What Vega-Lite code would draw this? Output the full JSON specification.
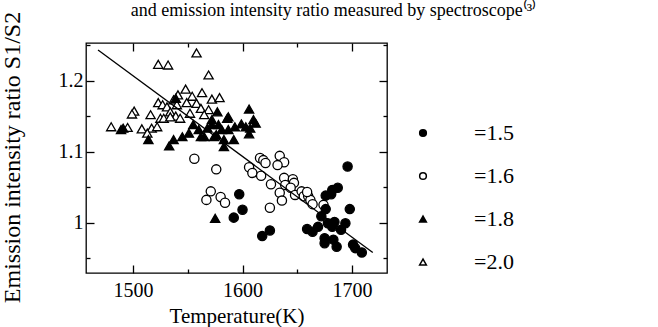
{
  "$schema": "https://vega.github.io/schema/vega-lite/v6.json",
  "width": 301,
  "height": 230,
  "autosize": {"type": "none"},
  "padding": {"left": 86, "top": 43, "right": 271, "bottom": 54},
  "background": "white",
  "title": {"text": "and emission intensity ratio measured by spectroscope⁽³⁾", "font": "Liberation Serif", "fontSize": 18, "fontWeight": "normal", "color": "black", "anchor": "middle", "frame": "group", "dx": 97, "baseline": "alphabetic", "offset": -23},
  "datasets": {
    "pts": [
      {"T":1480,"ratio":1.135,"phi":"2.0"},{"T":1523,"ratio":1.223,"phi":"2.0"},{"T":1532,"ratio":1.222,"phi":"2.0"},{"T":1558,"ratio":1.239,"phi":"2.0"},{"T":1569,"ratio":1.208,"phi":"2.0"},{"T":1548,"ratio":1.188,"phi":"2.0"},{"T":1563,"ratio":1.183,"phi":"2.0"},{"T":1572,"ratio":1.174,"phi":"2.0"},{"T":1579,"ratio":1.176,"phi":"2.0"},{"T":1554,"ratio":1.178,"phi":"2.0"},{"T":1501,"ratio":1.157,"phi":"2.0"},{"T":1499,"ratio":1.153,"phi":"2.0"},{"T":1495,"ratio":1.134,"phi":"2.0"},{"T":1508,"ratio":1.132,"phi":"2.0"},{"T":1517,"ratio":1.133,"phi":"2.0"},{"T":1522,"ratio":1.135,"phi":"2.0"},{"T":1513,"ratio":1.126,"phi":"2.0"},{"T":1525,"ratio":1.147,"phi":"2.0"},{"T":1523,"ratio":1.169,"phi":"2.0"},{"T":1527,"ratio":1.166,"phi":"2.0"},{"T":1531,"ratio":1.163,"phi":"2.0"},{"T":1537,"ratio":1.173,"phi":"2.0"},{"T":1540,"ratio":1.166,"phi":"2.0"},{"T":1534,"ratio":1.156,"phi":"2.0"},{"T":1539,"ratio":1.150,"phi":"2.0"},{"T":1543,"ratio":1.147,"phi":"2.0"},{"T":1552,"ratio":1.154,"phi":"2.0"},{"T":1558,"ratio":1.168,"phi":"2.0"},{"T":1562,"ratio":1.161,"phi":"2.0"},{"T":1569,"ratio":1.159,"phi":"2.0"},{"T":1565,"ratio":1.152,"phi":"2.0"},{"T":1516,"ratio":1.152,"phi":"2.0"},{"T":1549,"ratio":1.169,"phi":"2.0"},{"T":1541,"ratio":1.180,"phi":"2.0"},{"T":1528,"ratio":1.147,"phi":"2.0"},{"T":1534,"ratio":1.149,"phi":"2.0"},
      {"T":1489,"ratio":1.131,"phi":"1.8"},{"T":1491,"ratio":1.133,"phi":"1.8"},{"T":1514,"ratio":1.117,"phi":"1.8"},{"T":1533,"ratio":1.108,"phi":"1.8"},{"T":1537,"ratio":1.117,"phi":"1.8"},{"T":1545,"ratio":1.121,"phi":"1.8"},{"T":1551,"ratio":1.126,"phi":"1.8"},{"T":1562,"ratio":1.121,"phi":"1.8"},{"T":1568,"ratio":1.133,"phi":"1.8"},{"T":1577,"ratio":1.156,"phi":"1.8"},{"T":1572,"ratio":1.145,"phi":"1.8"},{"T":1583,"ratio":1.117,"phi":"1.8"},{"T":1586,"ratio":1.147,"phi":"1.8"},{"T":1539,"ratio":1.175,"phi":"1.8"},{"T":1606,"ratio":1.160,"phi":"1.8"},{"T":1610,"ratio":1.145,"phi":"1.8"},{"T":1599,"ratio":1.139,"phi":"1.8"},{"T":1607,"ratio":1.133,"phi":"1.8"},{"T":1606,"ratio":1.125,"phi":"1.8"},{"T":1587,"ratio":1.149,"phi":"1.8"},{"T":1587,"ratio":1.131,"phi":"1.8"},{"T":1592,"ratio":1.117,"phi":"1.8"},{"T":1583,"ratio":1.107,"phi":"1.8"},{"T":1581,"ratio":1.131,"phi":"1.8"},{"T":1572,"ratio":1.138,"phi":"1.8"},{"T":1565,"ratio":1.121,"phi":"1.8"},{"T":1574,"ratio":1.121,"phi":"1.8"},{"T":1575,"ratio":1.006,"phi":"1.8"},{"T":1555,"ratio":1.138,"phi":"1.8"},{"T":1560,"ratio":1.131,"phi":"1.8"},{"T":1578,"ratio":1.138,"phi":"1.8"},{"T":1593,"ratio":1.135,"phi":"1.8"},{"T":1603,"ratio":1.135,"phi":"1.8"},{"T":1612,"ratio":1.140,"phi":"1.8"},{"T":1576,"ratio":1.124,"phi":"1.8"},
      {"T":1556,"ratio":1.090,"phi":"1.6"},{"T":1576,"ratio":1.075,"phi":"1.6"},{"T":1571,"ratio":1.044,"phi":"1.6"},{"T":1567,"ratio":1.032,"phi":"1.6"},{"T":1580,"ratio":1.036,"phi":"1.6"},{"T":1584,"ratio":1.028,"phi":"1.6"},{"T":1616,"ratio":1.091,"phi":"1.6"},{"T":1619,"ratio":1.088,"phi":"1.6"},{"T":1621,"ratio":1.084,"phi":"1.6"},{"T":1634,"ratio":1.094,"phi":"1.6"},{"T":1638,"ratio":1.085,"phi":"1.6"},{"T":1632,"ratio":1.081,"phi":"1.6"},{"T":1606,"ratio":1.078,"phi":"1.6"},{"T":1609,"ratio":1.070,"phi":"1.6"},{"T":1617,"ratio":1.066,"phi":"1.6"},{"T":1626,"ratio":1.054,"phi":"1.6"},{"T":1638,"ratio":1.063,"phi":"1.6"},{"T":1639,"ratio":1.053,"phi":"1.6"},{"T":1646,"ratio":1.061,"phi":"1.6"},{"T":1647,"ratio":1.056,"phi":"1.6"},{"T":1644,"ratio":1.049,"phi":"1.6"},{"T":1634,"ratio":1.042,"phi":"1.6"},{"T":1636,"ratio":1.031,"phi":"1.6"},{"T":1648,"ratio":1.039,"phi":"1.6"},{"T":1654,"ratio":1.044,"phi":"1.6"},{"T":1656,"ratio":1.037,"phi":"1.6"},{"T":1660,"ratio":1.037,"phi":"1.6"},{"T":1662,"ratio":1.032,"phi":"1.6"},{"T":1664,"ratio":1.026,"phi":"1.6"},{"T":1674,"ratio":1.025,"phi":"1.6"},{"T":1625,"ratio":1.021,"phi":"1.6"},{"T":1659,"ratio":1.043,"phi":"1.6"},
      {"T":1597,"ratio":1.040,"phi":"1.5"},{"T":1600,"ratio":1.018,"phi":"1.5"},{"T":1592,"ratio":1.007,"phi":"1.5"},{"T":1618,"ratio":0.981,"phi":"1.5"},{"T":1625,"ratio":0.989,"phi":"1.5"},{"T":1659,"ratio":0.991,"phi":"1.5"},{"T":1664,"ratio":0.987,"phi":"1.5"},{"T":1669,"ratio":0.994,"phi":"1.5"},{"T":1672,"ratio":1.009,"phi":"1.5"},{"T":1676,"ratio":1.019,"phi":"1.5"},{"T":1676,"ratio":1.038,"phi":"1.5"},{"T":1681,"ratio":1.040,"phi":"1.5"},{"T":1682,"ratio":1.046,"phi":"1.5"},{"T":1687,"ratio":1.049,"phi":"1.5"},{"T":1696,"ratio":1.079,"phi":"1.5"},{"T":1698,"ratio":1.019,"phi":"1.5"},{"T":1678,"ratio":0.999,"phi":"1.5"},{"T":1684,"ratio":1.001,"phi":"1.5"},{"T":1682,"ratio":0.994,"phi":"1.5"},{"T":1690,"ratio":0.990,"phi":"1.5"},{"T":1694,"ratio":0.999,"phi":"1.5"},{"T":1675,"ratio":0.978,"phi":"1.5"},{"T":1675,"ratio":0.971,"phi":"1.5"},{"T":1683,"ratio":0.976,"phi":"1.5"},{"T":1686,"ratio":0.966,"phi":"1.5"},{"T":1701,"ratio":0.969,"phi":"1.5"},{"T":1709,"ratio":0.958,"phi":"1.5"},{"T":1703,"ratio":0.964,"phi":"1.5"}
    ],
    "fit": [
      {"T":1468,"ratio":1.243},
      {"T":1719,"ratio":0.958}
    ]
  },
  "layer": [
    {
      "data": {"name": "pts"},
      "mark": {"type": "point", "filled": true, "size": 85, "stroke": "black", "strokeWidth": 1.3, "opacity": 1},
      "encoding": {
        "x": {"field": "T", "type": "quantitative",
          "scale": {"domain": [1457, 1732], "nice": false, "zero": false},
          "axis": {"orient": "bottom", "values": [1500,1550,1600,1650,1700], "format": "d",
            "labelExpr": "datum.value % 100 === 0 ? datum.label : ''",
            "tickSize": {"condition": {"test": "datum.value % 100 === 0", "value": -8}, "value": -4},
            "labelPadding": 15,
            "title": "Temperature(K)", "titleFontSize": 21, "titleBaseline": "alphabetic", "titleY": 49}},
        "y": {"field": "ratio", "type": "quantitative",
          "scale": {"domain": [0.929, 1.253], "nice": false, "zero": false},
          "axis": {"orient": "left", "values": [0.95,1,1.05,1.1,1.15,1.2,1.25], "format": "~g",
            "labelExpr": "abs(round(datum.value*10) - datum.value*10) < 0.000001 ? datum.label : ''",
            "tickSize": {"condition": {"test": "abs(round(datum.value*10) - datum.value*10) < 0.000001", "value": -8}, "value": -4},
            "labelPadding": 11,
            "title": "Emission intensity ratio S1/S2", "titleFontSize": 24, "titleBaseline": "middle", "titleX": -74, "titleY": 114}},
        "shape": {"field": "phi", "type": "nominal",
          "scale": {"domain": ["1.5","1.6","1.8","2.0"], "range": ["circle","circle","triangle-up","triangle-up"]},
          "legend": {"orient": "none", "legendX": 326, "legendY": 79, "title": null, "padding": 0, "symbolSize": 45, "labelOffset": 40, "rowPadding": 21, "labelExpr": "'=' + datum.label",
            "encode": {"symbols": {"update": {"stroke": {"value": "black"}, "strokeWidth": {"value": 1.3}}}}}},
        "fill": {"field": "phi", "type": "nominal",
          "scale": {"domain": ["1.5","1.6","1.8","2.0"], "range": ["black","white","black","white"]},
          "legend": {"orient": "none", "legendX": 326, "legendY": 79, "title": null, "padding": 0, "symbolSize": 45, "labelOffset": 40, "rowPadding": 21, "labelExpr": "'=' + datum.label",
            "encode": {"symbols": {"update": {"stroke": {"value": "black"}, "strokeWidth": {"value": 1.3}}}}}}
      }
    },
    {
      "data": {"name": "fit"},
      "mark": {"type": "line", "color": "black", "strokeWidth": 1.3},
      "encoding": {
        "x": {"field": "T", "type": "quantitative",
          "scale": {"domain": [1457, 1732], "nice": false, "zero": false},
          "axis": {"orient": "top", "values": [1500,1550,1600,1650,1700], "labels": false, "title": null,
            "tickSize": {"condition": {"test": "datum.value % 100 === 0", "value": -8}, "value": -4}}},
        "y": {"field": "ratio", "type": "quantitative",
          "scale": {"domain": [0.929, 1.253], "nice": false, "zero": false},
          "axis": {"orient": "right", "values": [0.95,1,1.05,1.1,1.15,1.2,1.25], "labels": false, "title": null,
            "tickSize": {"condition": {"test": "abs(round(datum.value*10) - datum.value*10) < 0.000001", "value": -8}, "value": -4}}}
      }
    }
  ],
  "resolve": {"axis": {"x": "independent", "y": "independent"}},
  "config": {
    "view": {"stroke": "black", "strokeWidth": 1.3},
    "font": "Liberation Serif",
    "axis": {"domain": false, "grid": false, "tickColor": "black", "tickWidth": 1.3,
      "labelFont": "Liberation Serif", "labelFontSize": 20, "labelColor": "black",
      "titleFont": "Liberation Serif", "titleFontSize": 20, "titleFontWeight": "normal", "titleColor": "black"},
    "legend": {"labelFont": "Liberation Serif", "labelFontSize": 22, "labelColor": "black"}
  }
}
